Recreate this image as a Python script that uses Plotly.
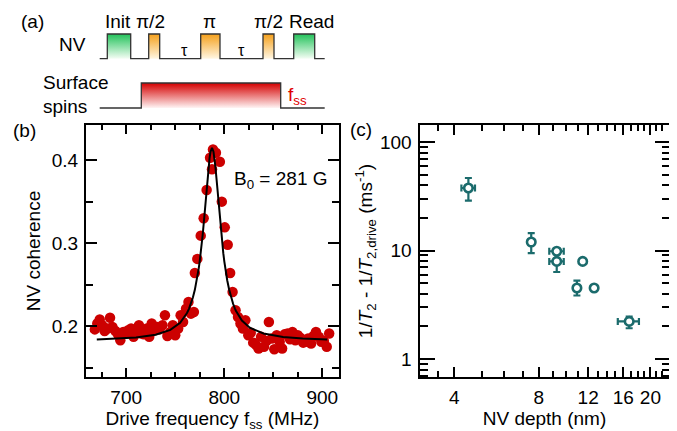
import plotly.graph_objects as go

# ---------------- Panel (b): NV coherence vs drive frequency ----------------
freq_mhz = [668, 670.5, 673, 675.5, 678, 681, 683.5, 686, 689, 691.5,
            694, 697, 699.5, 702, 705, 707.5, 710, 713, 715.5, 718,
            721, 723.5, 726, 729, 731.5, 734, 737, 739.5, 742, 745,
            747.5, 750, 753, 755.5, 758, 761, 763.5, 766, 769, 770,
            772.5, 776, 779, 782, 785.5, 787.5, 788.5, 791.5, 795.5, 797.5,
            800.5, 803.5, 806, 808.5, 811.5, 814, 816.5, 819, 821.5, 824.5,
            827, 829.5, 832.5, 835, 837.5, 840.5, 843, 845.5, 848.5, 851,
            853.5, 856.5, 859, 861.5, 864.5, 867, 869.5, 872.5, 875, 877.5,
            880.5, 883, 885.5, 888.5, 891, 893.5, 896.5, 899, 901.5, 904.5,
            907]
coherence = [0.196, 0.203, 0.208, 0.201, 0.194, 0.197, 0.210, 0.199, 0.194, 0.190,
             0.183, 0.193, 0.191, 0.195, 0.197, 0.187, 0.193, 0.201, 0.191, 0.190,
             0.197, 0.187, 0.203, 0.195, 0.199, 0.196, 0.201, 0.213, 0.188, 0.193,
             0.201, 0.189, 0.197, 0.213, 0.205, 0.221, 0.229, 0.215, 0.217, 0.264,
             0.281, 0.309, 0.330, 0.364, 0.403, 0.389, 0.413, 0.409, 0.398, 0.350,
             0.319, 0.298, 0.264, 0.241, 0.219, 0.211, 0.203, 0.197, 0.207, 0.189,
             0.192, 0.180, 0.177, 0.173, 0.187, 0.175, 0.182, 0.205, 0.185, 0.172,
             0.189, 0.181, 0.173, 0.190, 0.191, 0.184, 0.193, 0.183, 0.189, 0.186,
             0.180, 0.181, 0.185, 0.179, 0.188, 0.193, 0.187, 0.181, 0.182, 0.175,
             0.191]
fit_freq = [670, 690, 710, 730, 745, 755, 762, 764, 766, 768, 770, 772, 774, 775,
            776, 778, 780, 781, 782, 783, 784, 785, 786, 787.5, 789, 790, 791, 792,
            793, 794, 795, 797, 799, 800, 801, 803, 805, 807, 809, 811, 812, 818,
            826, 840, 860, 880, 905]
fit_coh = [0.1838, 0.1847, 0.1862, 0.1895, 0.1954, 0.2040, 0.2158, 0.2208, 0.2269,
           0.2344, 0.2437, 0.2553, 0.2698, 0.2784, 0.2879, 0.3101, 0.3363, 0.3505,
           0.3649, 0.3788, 0.3917, 0.4025, 0.4103, 0.4150, 0.4103, 0.4025, 0.3917,
           0.3788, 0.3649, 0.3505, 0.3363, 0.3101, 0.2879, 0.2784, 0.2698, 0.2553,
           0.2437, 0.2344, 0.2269, 0.2208, 0.2182, 0.2067, 0.1981, 0.1910, 0.1868,
           0.1850, 0.1838]

# ---------------- Panel (c): relaxation rate vs NV depth ----------------
depth_nm = [4.49, 7.52, 9.27, 9.27, 11.47, 10.94, 12.6, 16.8]
depth_err_minus = [0.25, 0.0, 0.55, 0.55, 0.0, 0.0, 0.0, 1.5]
depth_err_plus = [0.25, 0.0, 0.55, 0.55, 0.0, 0.0, 0.0, 1.4]
rate_inv_ms = [37.7, 11.97, 9.84, 7.94, 7.94, 4.51, 4.51, 2.22]
rate_err_plus = [8.9, 2.5, 0.5, 0.5, 0.0, 0.77, 0.0, 0.24]
rate_err_minus = [8.9, 2.5, 0.5, 1.6, 0.0, 0.66, 0.0, 0.30]

# ---------------- Panel (a): pulse sequence (diagram units) ----------------
nv_labels = ["Init", "π/2", "π", "π/2", "Read"]
nv_start = [99.3, 140.7, 192.7, 255.0, 285.7]
nv_end = [122.7, 151.7, 212.0, 266.0, 306.7]
nv_kind = ["laser", "mw", "mw", "mw", "laser"]
ss_start = 133.3
ss_end = 272.7

W, H = 677, 431
FONT = "Liberation Sans, Arial, Helvetica, sans-serif"
FS = 19
RED = "#cc0000"
TEAL = "#1b6b6c"


def px(x):
    return x / W


def py(y):
    return 1 - y / H


fig = go.Figure()

# Panel b traces
fig.add_trace(go.Scatter(x=freq_mhz, y=coherence, mode="markers",
                         marker=dict(color=RED, size=10.5, line=dict(width=0)),
                         xaxis="x", yaxis="y", hoverinfo="skip"))
fig.add_trace(go.Scatter(x=fit_freq, y=fit_coh, mode="lines",
                         line=dict(color="black", width=2),
                         xaxis="x", yaxis="y", hoverinfo="skip"))

# Panel c trace
fig.add_trace(go.Scatter(
    x=depth_nm, y=rate_inv_ms, mode="markers",
    marker=dict(color="white", size=8.5, line=dict(color=TEAL, width=2.6)),
    error_y=dict(type="data", array=rate_err_plus, arrayminus=rate_err_minus,
                 color=TEAL, thickness=2.2, width=3.5),
    error_x=dict(type="data", array=depth_err_plus, arrayminus=depth_err_minus,
                 color=TEAL, thickness=2.2, width=3.5),
    xaxis="x2", yaxis="y2", hoverinfo="skip"))

# Panel a diagram (pixel-like coordinates on hidden axes)
def Y(v):
    return H - v

NV_BASE, NV_TOP = 50.7, 26.0
SS_BASE, SS_TOP = 100.0, 75.0
X0, X1 = 91.7, 316.7
grad = {"laser": ("#f4fdf4", "#22c25a"), "mw": ("#fff6e2", "#f5a01a")}

for s, e, k in zip(nv_start, nv_end, nv_kind):
    lo, hi = grad[k]
    fig.add_trace(go.Scatter(
        x=[s, s, e, e, s], y=[Y(NV_BASE), Y(NV_TOP), Y(NV_TOP), Y(NV_BASE), Y(NV_BASE)],
        mode="lines", fill="toself", line=dict(width=0),
        fillgradient=dict(type="vertical", colorscale=[[0, lo], [1, hi]]),
        xaxis="x3", yaxis="y3", hoverinfo="skip"))
fig.add_trace(go.Scatter(
    x=[ss_start, ss_start, ss_end, ss_end, ss_start],
    y=[Y(SS_BASE), Y(SS_TOP), Y(SS_TOP), Y(SS_BASE), Y(SS_BASE)],
    mode="lines", fill="toself", line=dict(width=0),
    fillgradient=dict(type="vertical", colorscale=[[0, "#fff4f4"], [1, "#d40000"]]),
    xaxis="x3", yaxis="y3", hoverinfo="skip"))

wx, wy = [X0], [Y(NV_BASE)]
for s, e in zip(nv_start, nv_end):
    wx += [s, s, e, e]
    wy += [Y(NV_BASE), Y(NV_TOP), Y(NV_TOP), Y(NV_BASE)]
wx.append(X1); wy.append(Y(NV_BASE))
fig.add_trace(go.Scatter(x=wx, y=wy, mode="lines", line=dict(color="#333333", width=1.3),
                         xaxis="x3", yaxis="y3", hoverinfo="skip"))
fig.add_trace(go.Scatter(
    x=[X0, ss_start, ss_start, ss_end, ss_end, X1],
    y=[Y(SS_BASE), Y(SS_BASE), Y(SS_TOP), Y(SS_TOP), Y(SS_BASE), Y(SS_BASE)],
    mode="lines", line=dict(color="#333333", width=1.3),
    xaxis="x3", yaxis="y3", hoverinfo="skip"))

annotations = []


def txt(text, x, y, size=FS, color="black", xanchor="center", **kw):
    annotations.append(dict(text=text, x=px(x), y=py(y), xref="paper", yref="paper",
                            showarrow=False, xanchor=xanchor, yanchor="middle",
                            borderpad=0,
                            font=dict(family=FONT, size=size, color=color), **kw))


label_x = [110, 142.5, 201, 260, 303.5]
for lab, lx in zip(nv_labels, label_x):
    txt(lab, lx, 14)
txt("NV", 64, 36)
txt("τ", 176.7, 43, size=16)
txt("τ", 233.3, 43, size=16)
txt("Surface", 34, 74, xanchor="left")
txt("spins", 34, 98, xanchor="left")
txt("f<sub>ss</sub>", 279, 88, color="#e00000", xanchor="left")
txt("(a)", 24, 14)
txt("(b)", 16, 122)
txt("(c)", 353, 121)
txt("B<sub>0</sub> = 281 G", 273, 172)

axis_common = dict(showline=True, linecolor="black", linewidth=2, mirror="ticks",
                   ticks="inside", tickcolor="black", tickwidth=1.5, showgrid=False,
                   zeroline=False, tickfont=dict(family=FONT, size=FS, color="black"),
                   ticklabelstandoff=2)

ydom = [1 - 369 / H, 1 - 117 / H]
tfont = dict(family=FONT, size=FS)

fig.update_layout(
    width=W, height=H, margin=dict(l=0, r=0, t=0, b=0),
    paper_bgcolor="white", plot_bgcolor="rgba(0,0,0,0)", showlegend=False,
    font=dict(family=FONT, size=FS, color="black"),
    annotations=annotations,
    xaxis=dict(domain=[px(78), px(331)], anchor="y", range=[659, 917],
               tickmode="array", tickvals=[700, 800, 900], ticklen=9,
               minor=dict(tickmode="array", tickvals=[675, 725, 750, 775, 825, 850, 875],
                          ticks="inside", ticklen=5, tickwidth=1.5, tickcolor="black"),
               title=dict(text="Drive frequency f<sub>ss</sub> (MHz)", font=tfont, standoff=0),
               **axis_common),
    yaxis=dict(domain=ydom, anchor="x", range=[0.1386, 0.4424],
               tickmode="array", tickvals=[0.2, 0.3, 0.4], ticktext=["0.2", "0.3", "0.4"],
               ticklen=11,
               minor=dict(tickmode="array", tickvals=[0.15, 0.25, 0.35],
                          ticks="inside", ticklen=7, tickwidth=1.5, tickcolor="black"),
               title=dict(text="NV coherence", font=tfont, standoff=6),
               **axis_common),
    xaxis2=dict(domain=[px(411.5), px(661.5)], anchor="y2", type="log",
                range=[0.478, 1.369],
                tickmode="array", tickvals=[4, 8, 12, 16, 20],
                ticktext=["4", "8", "12", "16", "20"], ticklen=10,
                minor=dict(tickmode="array",
                           tickvals=[3.5, 5, 6, 7, 9, 10, 11, 13, 14, 15, 17, 18, 19, 21, 22],
                           ticks="inside", ticklen=6, tickwidth=1.5, tickcolor="black"),
                title=dict(text="NV depth (nm)", font=tfont, standoff=0),
                **axis_common),
    yaxis2=dict(domain=ydom, anchor="x2", type="log", range=[-0.166, 2.157],
                tickmode="array", tickvals=[1, 10, 100], ticktext=["1", "10", "100"],
                ticklen=15,
                minor=dict(tickmode="array",
                           tickvals=[0.7, 0.8, 0.9, 2, 3, 4, 5, 6, 7, 8, 9,
                                     20, 30, 40, 50, 60, 70, 80, 90],
                           ticks="inside", ticklen=8, tickwidth=1.5, tickcolor="black"),
                title=dict(text="1/<i>T</i><sub>2</sub> - 1/<i>T</i><sub>2,drive</sub> (ms<sup>-1</sup>)",
                           font=tfont, standoff=2),
                **axis_common),
    xaxis3=dict(domain=[0, 1], anchor="y3", range=[0, W], visible=False, fixedrange=True),
    yaxis3=dict(domain=[0, 1], anchor="x3", range=[0, H], visible=False, fixedrange=True),
)

fig.write_html("out.html")
